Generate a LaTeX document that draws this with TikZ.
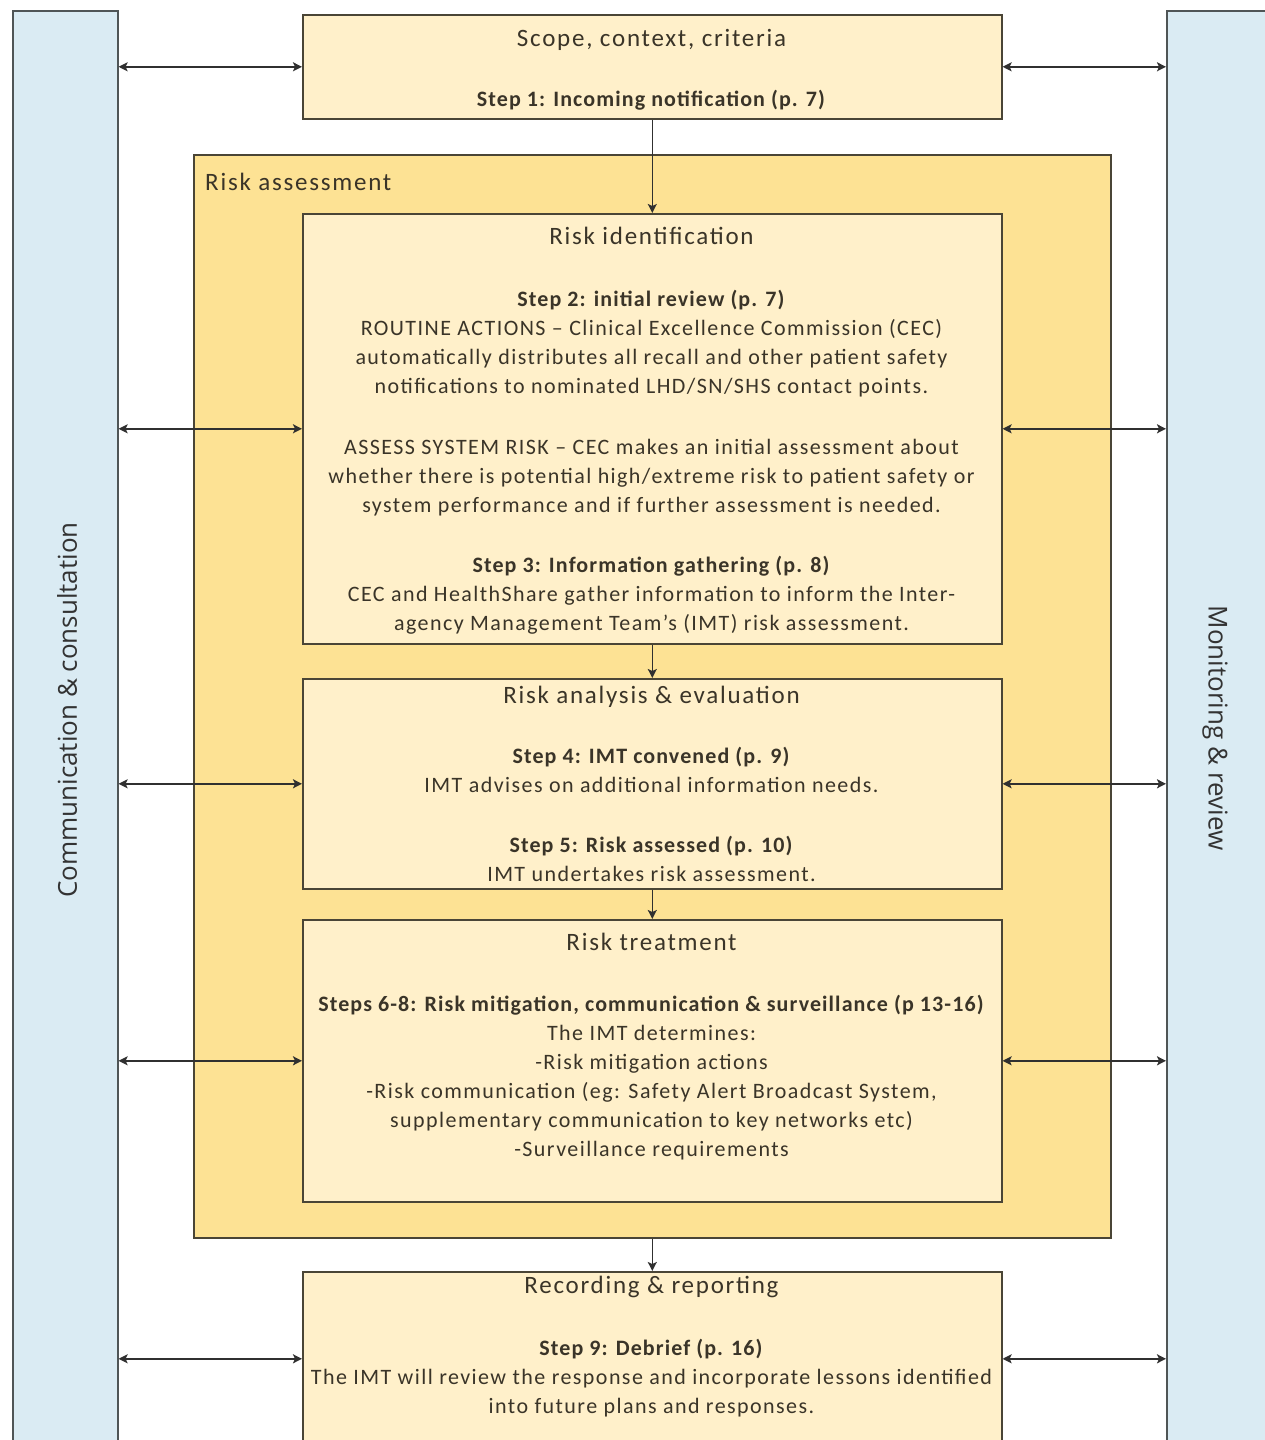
\documentclass[tikz,border=0pt]{standalone}
\usepackage{fontspec}
\setmainfont{Carlito}[LetterSpace=6.5, BoldFeatures={LetterSpace=5}]
\newfontfamily\headfont{Carlito}[LetterSpace=7]
\newfontfamily\sidefont{Open Sans}
\usetikzlibrary{arrows.meta}
\definecolor{bluefill}{HTML}{DAEBF3}
\definecolor{creamfill}{HTML}{FFF0CA}
\definecolor{goldfill}{HTML}{FDE294}
\definecolor{edgec}{HTML}{4A4536}
\definecolor{sideedge}{HTML}{4F5556}
\definecolor{txt}{HTML}{3A3428}
\definecolor{arrowc}{HTML}{303030}
\newcommand\firstrule{\rule{0pt}{20pt}}
\begin{document}
\begin{tikzpicture}[x=1pt,y=-1pt,
  sidebar/.style={draw=sideedge, line width=1.6pt, fill=bluefill, anchor=north west, inner sep=0pt},
  boxc/.style={draw=edgec, line width=1.6pt, fill=creamfill, anchor=north west, inner sep=0pt, minimum width=699pt},
  bodytext/.style={text=txt, font=\fontsize{22}{29}\selectfont, align=center, inner sep=0pt, anchor=north},
  headtext/.style={text=txt, font=\headfont\fontsize{25}{29}\selectfont, inner sep=0pt, anchor=base},
  sidetext/.style={text=black!80, font=\sidefont\fontsize{26}{30}\selectfont, inner sep=0pt},
  link/.style={{Stealth[length=9pt,width=9pt,inset=2pt]}-{Stealth[length=9pt,width=9pt,inset=2pt]}, line width=1.8pt, draw=arrowc},
  flow/.style={-{Stealth[length=9pt,width=9pt,inset=2pt]}, line width=1.6pt, draw=arrowc}
]
\useasboundingbox (0,0) rectangle (1264,1440);
\fill[white] (0,0) rectangle (1264,1440);

% side bars
\node[sidebar, minimum width=105pt, minimum height=1460pt] (comm) at (12,10) {};
\node[sidebar, minimum width=130pt, minimum height=1460pt] (mon) at (1166,10) {};
\node[sidetext, rotate=90] (commlabel) at (67,710) {Communication \& consultation};
\node[sidetext, rotate=-90] (monlabel) at (1215,728) {Monitoring \& review};

% risk assessment container
\node[draw=edgec, line width=1.6pt, fill=goldfill, anchor=north west, inner sep=0pt,
      minimum width=917pt, minimum height=1083pt] (ra) at (193,154) {};
\node[headtext, anchor=base west] (ralabel) at (205,190) {Risk assessment};

% boxes
\node[boxc, minimum height=104pt] (scope) at (302,14) {};
\node[boxc, minimum height=430pt] (ident) at (302,213) {};
\node[boxc, minimum height=210pt] (anal) at (302,678) {};
\node[boxc, minimum height=282pt] (treat) at (302,919) {};
\node[boxc, minimum height=174pt] (rec) at (302,1271) {};

% texts: scope
\node[headtext] (scopehead) at (651.5,46) {Scope, context, criteria};
\node[bodytext] (scopebody) at (651.5,86) {\firstrule\textbf{Step 1: Incoming notification (p. 7)}};

% identification
\node[headtext] (identhead) at (651.5,244) {Risk identification};
\node[bodytext] (identa) at (651.5,286) {\firstrule\textbf{Step 2: initial review (p. 7)}\\
ROUTINE ACTIONS – Clinical Excellence Commission (CEC)\\
automatically distributes all recall and other patient safety\\
notifications to nominated LHD/SN/SHS contact points.};
\node[bodytext] (identb) at (651.5,434) {\firstrule ASSESS SYSTEM RISK – CEC makes an initial assessment about\\
whether there is potential high/extreme risk to patient safety or\\
system performance and if further assessment is needed.};
\node[bodytext] (identc) at (651.5,552) {\firstrule\textbf{Step 3: Information gathering (p. 8)}\\
CEC and HealthShare gather information to inform the Inter-\\
agency Management Team’s (IMT) risk assessment.};

% analysis
\node[headtext] (analhead) at (651.5,703) {Risk analysis \& evaluation};
\node[bodytext] (anala) at (651.5,743) {\firstrule\textbf{Step 4: IMT convened (p. 9)}\\
IMT advises on additional information needs.};
\node[bodytext] (analb) at (651.5,832) {\firstrule\textbf{Step 5: Risk assessed (p. 10)}\\
IMT undertakes risk assessment.};

% treatment
\node[headtext] (treathead) at (651.5,950) {Risk treatment};
\node[bodytext] (treatbody) at (651.5,991) {\firstrule\textbf{Steps 6-8: Risk mitigation, communication \& surveillance (p 13-16)}\\
The IMT determines:\\
-Risk mitigation actions\\
-Risk communication (eg: Safety Alert Broadcast System,\\
supplementary communication to key networks etc)\\
-Surveillance requirements};

% recording
\node[headtext] (rechead) at (651.5,1293) {Recording \& reporting};
\node[bodytext] (recbody) at (651.5,1335) {\firstrule\textbf{Step 9: Debrief (p. 16)}\\
The IMT will review the response and incorporate lessons identified\\
into future plans and responses.};

% vertical flow
\draw[flow] (scope.south) -- (ident.north);
\draw[flow] (ident.south) -- (anal.north);
\draw[flow] (anal.south) -- (treat.north);
\draw[flow] (ra.south -| rec.north) -- (rec.north);

% side links
\foreach \b in {scope,ident,anal,treat,rec}{
  \draw[link] (\b.west -| comm.east) -- (\b.west);
  \draw[link] (\b.east) -- (\b.east -| mon.west);
}
\end{tikzpicture}
\end{document}
